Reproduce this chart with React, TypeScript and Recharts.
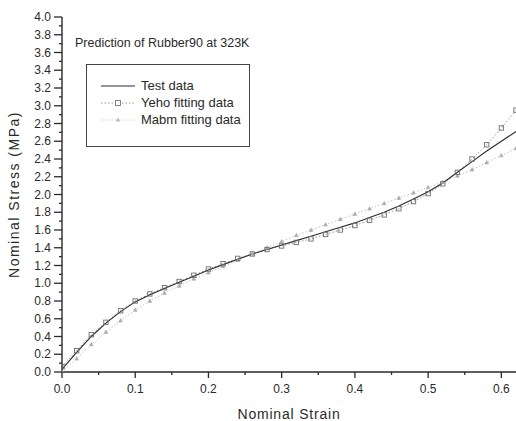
import React from "react";
import { LineChart, Line, XAxis, YAxis, Legend } from "recharts";

const strain = [0, 0.02, 0.04, 0.06, 0.08, 0.1, 0.12, 0.14, 0.16, 0.18, 0.2, 0.22, 0.24, 0.26, 0.28, 0.3, 0.32, 0.34, 0.36, 0.38, 0.4, 0.42, 0.44, 0.46, 0.48, 0.5, 0.52, 0.54, 0.56, 0.58, 0.6, 0.62];
const testStress = [0.03, 0.22, 0.4, 0.55, 0.68, 0.79, 0.87, 0.94, 1.01, 1.08, 1.15, 1.21, 1.27, 1.33, 1.38, 1.43, 1.48, 1.53, 1.58, 1.63, 1.68, 1.74, 1.8, 1.87, 1.95, 2.03, 2.13, 2.25, 2.37, 2.49, 2.6, 2.71];
const yehoStress = [0.06, 0.24, 0.42, 0.56, 0.69, 0.8, 0.88, 0.95, 1.02, 1.09, 1.16, 1.22, 1.28, 1.33, 1.38, 1.42, 1.46, 1.5, 1.55, 1.6, 1.65, 1.71, 1.77, 1.84, 1.92, 2.01, 2.12, 2.25, 2.4, 2.56, 2.75, 2.95];
const mabmStress = [0.0, 0.15, 0.31, 0.45, 0.58, 0.7, 0.8, 0.89, 0.97, 1.05, 1.12, 1.19, 1.26, 1.33, 1.4, 1.47, 1.54, 1.6, 1.66, 1.72, 1.78, 1.84, 1.9, 1.96, 2.02, 2.08, 2.14, 2.21, 2.28, 2.36, 2.44, 2.52];

const xTicks = [0, 0.05, 0.1, 0.15, 0.2, 0.25, 0.3, 0.35, 0.4, 0.45, 0.5, 0.55, 0.6];
const yTicks = Array.from({ length: 41 }, (_, i) => Math.round(i * 10) / 100);

const titleText = "Prediction of Rubber90 at 323K";
const xTitle = "Nominal Strain";
const yTitle = "Nominal Stress (MPa)";
const seriesNames = ["Test data", "Yeho fitting data", "Mabm fitting data"];

const testData = strain.map((x, i) => ({ x, y: testStress[i] }));
const yehoData = strain.map((x, i) => ({ x, y: yehoStress[i] }));
const mabmData = strain.map((x, i) => ({ x, y: mabmStress[i] }));

const FONT = "Arial, 'Liberation Sans', sans-serif";
const INK = "#2a2a2a";

const XTick = (props: any) => {
  const { x, y, payload } = props;
  const v = payload.value;
  const major = Math.abs(Math.round(v * 10) - v * 10) < 1e-6;
  return (
    <g>
      <line x1={x} y1={y} x2={x} y2={y + (major ? 6 : 3)} stroke={INK} strokeWidth={1.3} />
      {major && (
        <text x={x} y={y + 21} textAnchor="middle" fontSize={12} fill={INK} fontFamily={FONT}>
          {v.toFixed(1)}
        </text>
      )}
    </g>
  );
};

const YTick = (props: any) => {
  const { x, y, payload } = props;
  const v = payload.value;
  const k = Math.round(v * 10);
  const major = k % 2 === 0;
  return (
    <g>
      <line x1={x - (major ? 8 : 3)} y1={y} x2={x} y2={y} stroke={INK} strokeWidth={1.3} />
      {major && (
        <text x={x - 11} y={y + 4} textAnchor="end" fontSize={12} fill={INK} fontFamily={FONT}>
          {v.toFixed(1)}
        </text>
      )}
    </g>
  );
};

const SquareDot = (props: any) => {
  const { cx, cy } = props;
  if (cx == null || cy == null) return null;
  return <rect x={cx - 2.2} y={cy - 2.2} width={4.4} height={4.4} fill="none" stroke="#6f6f6f" strokeWidth={0.9} />;
};

const TriDot = (props: any) => {
  const { cx, cy } = props;
  if (cx == null || cy == null) return null;
  return <path d={`M${cx},${cy - 2} L${cx + 1.8},${cy + 1.4} L${cx - 1.8},${cy + 1.4} Z`} fill="#b0b0b0" stroke="#a5a5a5" strokeWidth={0.6} />;
};

const LegendBox = (props: any) => {
  const items = [...(props.payload || [])].sort(
    (a: any, b: any) => seriesNames.indexOf(a.value) - seriesNames.indexOf(b.value)
  );
  return (
    <div
      style={{
        border: "1px solid #444",
        width: 162,
        padding: "12px 0 18px 0",
        fontFamily: FONT,
        fontSize: 13,
        color: INK,
        background: "#fff",
      }}
    >
      {items.map((it: any) => (
        <div key={it.value} style={{ display: "flex", alignItems: "center", height: 17 }}>
          <svg width={54} height={12} style={{ flex: "none" }}>
            {it.value === seriesNames[0] && <line x1={14} y1={6} x2={48} y2={6} stroke={INK} strokeWidth={1.2} />}
            {it.value === seriesNames[1] && (
              <g>
                <line x1={14} y1={6} x2={48} y2={6} stroke="#999" strokeWidth={1} strokeDasharray="1.5 2" />
                <rect x={28.5} y={3.5} width={5} height={5} fill="#fff" stroke="#777" strokeWidth={0.9} />
              </g>
            )}
            {it.value === seriesNames[2] && (
              <g>
                <line x1={14} y1={6} x2={48} y2={6} stroke="#ccc" strokeWidth={1} strokeDasharray="1.5 2" />
                <path d="M31,3.8 L33,7.5 L29,7.5 Z" fill="#b5b5b5" />
              </g>
            )}
          </svg>
          <span>{it.value}</span>
        </div>
      ))}
    </div>
  );
};

export default function App() {
  return (
    <div style={{ position: "absolute", left: 0, top: 0, width: 516, height: 421, background: "#fff" }}>
      <LineChart width={516} height={421} margin={{ top: 17, right: 0, bottom: 0, left: 0 }}>
        <XAxis
          type="number"
          dataKey="x"
          domain={[0, 0.62]}
          ticks={xTicks}
          tick={<XTick />}
          tickLine={false}
          tickSize={0}
          tickMargin={0}
          height={49}
          stroke={INK}
          strokeWidth={1.4}
          allowDataOverflow
          label={{ value: xTitle, position: "insideBottom", offset: 2, fontSize: 14, fill: INK, fontFamily: FONT, style: { letterSpacing: "0.8px" } }}
        />
        <YAxis
          type="number"
          dataKey="y"
          domain={[0, 4]}
          ticks={yTicks}
          tick={<YTick />}
          tickLine={false}
          tickSize={0}
          tickMargin={0}
          width={62}
          interval={0}
          stroke={INK}
          strokeWidth={1.4}
          allowDataOverflow
          label={{ value: yTitle, angle: -90, position: "insideLeft", offset: 14, fontSize: 14, fill: INK, fontFamily: FONT, style: { textAnchor: "middle", letterSpacing: "1.5px" } }}
        />
        <text x={75} y={47} fontSize={12.5} fill={INK} fontFamily={FONT}>
          {titleText}
        </text>
        <Legend
          verticalAlign="middle"
          align="center"
          layout="horizontal"
          wrapperStyle={{ left: 86, top: 64, width: 164 }}
          content={<LegendBox />}
        />
        <Line data={mabmData} dataKey="y" name={seriesNames[2]} stroke="#c4c4c4" strokeWidth={1} strokeDasharray="1.5 2" dot={<TriDot />} isAnimationActive={false} legendType="triangle" />
        <Line data={yehoData} dataKey="y" name={seriesNames[1]} stroke="#999" strokeWidth={1} strokeDasharray="1.5 2" dot={<SquareDot />} isAnimationActive={false} legendType="square" />
        <Line data={testData} dataKey="y" name={seriesNames[0]} stroke={INK} strokeWidth={1.1} dot={false} isAnimationActive={false} legendType="line" />
      </LineChart>
    </div>
  );
}
